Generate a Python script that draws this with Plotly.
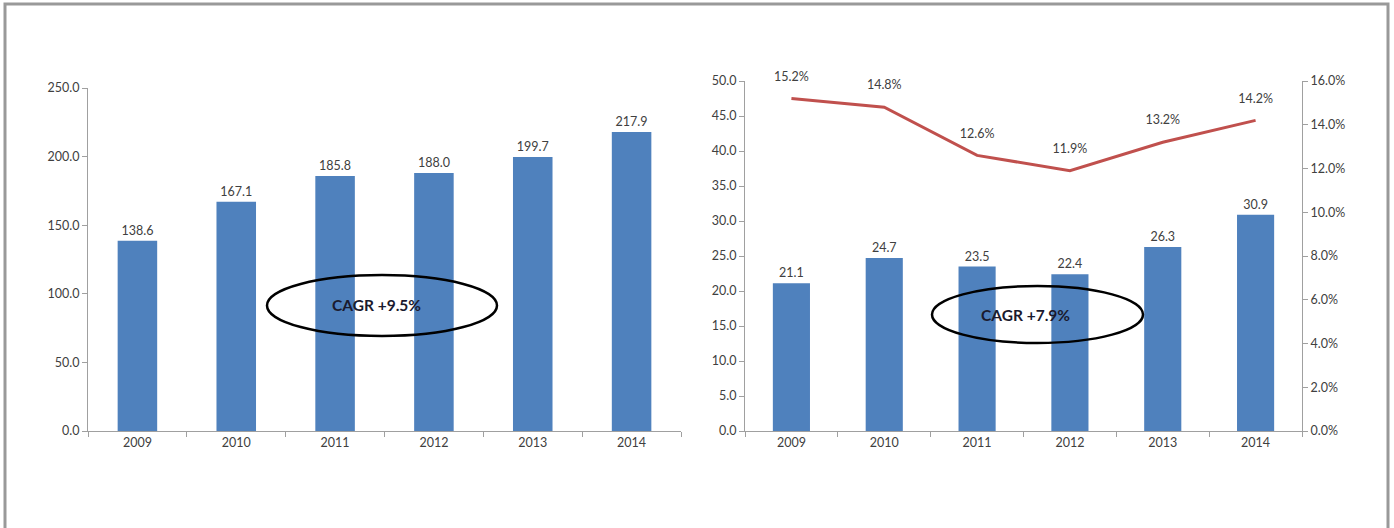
import plotly.graph_objects as go

years = ["2009", "2010", "2011", "2012", "2013", "2014"]
left_values = [138.6, 167.1, 185.8, 188.0, 199.7, 217.9]
right_values = [21.1, 24.7, 23.5, 22.4, 26.3, 30.9]
margin_pct = [15.2, 14.8, 12.6, 11.9, 13.2, 14.2]
cagr_left = "CAGR +9.5%"
cagr_right = "CAGR +7.9%"

W, H = 1394, 528
BAR = "#4F81BD"
LINE = "#C0504D"
TXT = "#404040"
AX = "#A0A0A0"
FONT = "Lato, 'Liberation Sans', sans-serif"

def px(x):
    return x / W

def py(y):
    return 1 - y / H

fig = go.Figure()

fig.add_trace(go.Bar(
    x=years, y=left_values, xaxis="x", yaxis="y",
    marker_color=BAR, width=0.4,
    text=[f"{v:.1f}" for v in left_values], textposition="outside",
    textfont=dict(size=12.5, color=TXT, family=FONT),
    cliponaxis=False, hoverinfo="skip", showlegend=False,
))

fig.add_trace(go.Bar(
    x=years, y=right_values, xaxis="x2", yaxis="y2",
    marker_color=BAR, width=0.4,
    text=[f"{v:.1f}" for v in right_values], textposition="outside",
    textfont=dict(size=12.5, color=TXT, family=FONT),
    cliponaxis=False, hoverinfo="skip", showlegend=False,
))

fig.add_trace(go.Scatter(
    x=years, y=margin_pct, xaxis="x2", yaxis="y3",
    mode="lines+markers+text", line=dict(color=LINE, width=3),
    marker=dict(size=22, color="rgba(0,0,0,0)"),
    text=[f"{v:.1f}%" for v in margin_pct], textposition="top center",
    textfont=dict(size=12.5, color=TXT, family=FONT),
    cliponaxis=False, hoverinfo="skip", showlegend=False,
))

axis_common = dict(showgrid=False, zeroline=False, showline=True, linecolor=AX, linewidth=1,
                   ticks="outside", tickcolor=AX, ticklen=5, automargin=False,
                   tickfont=dict(size=12.5, color=TXT, family=FONT), fixedrange=True)

fig.update_layout(
    template="none",
    width=W, height=H,
    margin=dict(l=0, r=0, t=0, b=0, pad=0, autoexpand=False),
    showlegend=False,
    paper_bgcolor="white", plot_bgcolor="white",
    font=dict(family=FONT, color=TXT),
    bargap=0.6,
    xaxis=dict(domain=[px(88), px(681)], anchor="y", type="category", tickson="boundaries", **axis_common),
    yaxis=dict(domain=[py(431), py(88)], anchor="x", range=[0, 250], dtick=50, tickformat=".1f", **axis_common),
    xaxis2=dict(domain=[px(745), px(1302)], anchor="y2", type="category", tickson="boundaries", **axis_common),
    yaxis2=dict(domain=[py(431), py(81)], anchor="x2", range=[0, 50], dtick=5, tickformat=".1f", **axis_common),
    yaxis3=dict(overlaying="y2", side="right", anchor="x2", range=[0, 16], dtick=2,
                tickformat=".1f", ticksuffix="%", **axis_common),
    shapes=[
        dict(type="rect", xref="paper", yref="paper", x0=px(5), x1=px(1388), y0=py(560), y1=py(4),
             line=dict(color="#999999", width=3), fillcolor="rgba(0,0,0,0)", layer="above"),
        dict(type="circle", xref="paper", yref="paper", x0=px(267), x1=px(497), y0=py(336), y1=py(275),
             line=dict(color="black", width=2.5)),
        dict(type="circle", xref="paper", yref="paper", x0=px(932), x1=px(1143), y0=py(343), y1=py(286),
             line=dict(color="black", width=2.5)),
    ],
    annotations=[
        dict(text=f"<b>{cagr_left}</b>", xref="paper", yref="paper", x=px(376), y=py(305),
             xanchor="center", yanchor="middle",
             showarrow=False, font=dict(size=15.5, color="#1a1a2e", family=FONT)),
        dict(text=f"<b>{cagr_right}</b>", xref="paper", yref="paper", x=px(1025), y=py(315),
             xanchor="center", yanchor="middle",
             showarrow=False, font=dict(size=15.5, color="#1a1a2e", family=FONT)),
    ],
)

fig.write_html("out.html", config={"displayModeBar": False, "staticPlot": True},
               post_script="document.body.style.margin='0';")
